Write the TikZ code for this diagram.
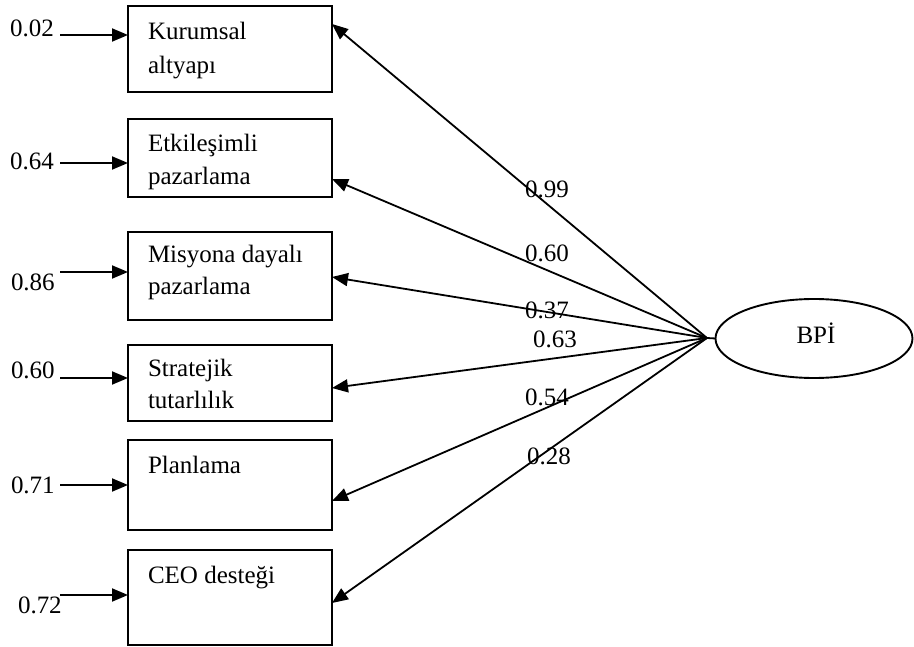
\documentclass[tikz,border=0pt]{standalone}
\usepackage{fontspec}
\setmainfont{Liberation Serif}
\usetikzlibrary{arrows.meta,shapes.geometric}
\begin{document}
\begin{tikzpicture}[x=1pt,y=-1pt,
  every node/.style={inner sep=0pt,outer sep=0pt},
  txt/.style={font=\fontsize{25}{33}\selectfont},
  itembox/.style={draw,line width=1.9pt,minimum width=204pt},
  link/.style={line width=1.9pt,-{Triangle[length=16pt,width=13pt]}},
  load/.style={line width=1.8pt,-{Triangle[length=16pt,width=13pt]}}]
\useasboundingbox (0,0) rectangle (914,647);

% indicator boxes
\node[itembox,minimum height=86pt,anchor=north west] (k1) at (128,6) {};
\node[itembox,minimum height=78pt,anchor=north west] (k2) at (128,119) {};
\node[itembox,minimum height=88pt,anchor=north west] (k3) at (128,232) {};
\node[itembox,minimum height=76pt,anchor=north west] (k4) at (128,345) {};
\node[itembox,minimum height=90pt,anchor=north west] (k5) at (128,440) {};
\node[itembox,minimum height=95pt,anchor=north west] (k6) at (128,550) {};

% box texts
\node[txt,anchor=base west] (t1a) at (148,40) {Kurumsal};
\node[txt,anchor=base west] (t1b) at (148,74) {altyapı};
\node[txt,anchor=base west] (t2a) at (148,152) {Etkileşimli};
\node[txt,anchor=base west] (t2b) at (148,185) {pazarlama};
\node[txt,anchor=base west] (t3a) at (148,263) {Misyona dayalı};
\node[txt,anchor=base west] (t3b) at (148,295) {pazarlama};
\node[txt,anchor=base west] (t4a) at (148,377) {Stratejik};
\node[txt,anchor=base west] (t4b) at (148,408) {tutarlılık};
\node[txt,anchor=base west] (t5a) at (148,473) {Planlama};
\node[txt,anchor=base west] (t6a) at (148,583) {CEO desteği};

% latent variable
\node[draw,ellipse,line width=1.9pt,minimum width=197pt,minimum height=79pt] (bpi) at (814,338.5) {};
\node[txt,anchor=base] (bpit) at (816,344) {BPİ};
\coordinate (hub) at (707,338);

% error terms
\node[txt,anchor=base west] (e1t) at (10,37) {0.02};
\node[txt,anchor=base west] (e2t) at (10,170) {0.64};
\node[txt,anchor=base west] (e3t) at (11,291) {0.86};
\node[txt,anchor=base west] (e4t) at (11,378) {0.60};
\node[txt,anchor=base west] (e5t) at (11,493) {0.71};
\node[txt,anchor=base west] (e6t) at (18,613) {0.72};
\coordinate (e1) at (60,35);
\coordinate (e2) at (60,163);
\coordinate (e3) at (60,272);
\coordinate (e4) at (60,378);
\coordinate (e5) at (60,485);
\coordinate (e6) at (60,595);
\draw[link] (e1) -- (e1 -| k1.west);
\draw[link] (e2) -- (e2 -| k2.west);
\draw[link] (e3) -- (e3 -| k3.west);
\draw[link] (e4) -- (e4 -| k4.west);
\draw[link] (e5) -- (e5 -| k5.west);
\draw[link] (e6) -- (e6 -| k6.west);

% loadings
\draw[line width=1.8pt] (bpi.west) -- (hub);
\draw[load] (hub) -- ([yshift=25pt]k1.east);
\draw[load] (hub) -- ([yshift=-21pt]k2.east);
\draw[load] (hub) -- ([yshift=-1pt]k3.east);
\draw[load] (hub) -- ([yshift=-5pt]k4.east);
\draw[load] (hub) -- ([yshift=-16pt]k5.east);
\draw[load] (hub) -- ([yshift=-5.5pt]k6.east);

\node[txt,anchor=base west] (l1) at (525,198) {0.99};
\node[txt,anchor=base west] (l2) at (525,262) {0.60};
\node[txt,anchor=base west] (l3) at (525,319) {0.37};
\node[txt,anchor=base west] (l4) at (533,348) {0.63};
\node[txt,anchor=base west] (l5) at (525,406) {0.54};
\node[txt,anchor=base west] (l6) at (527,464) {0.28};
\end{tikzpicture}
\end{document}
